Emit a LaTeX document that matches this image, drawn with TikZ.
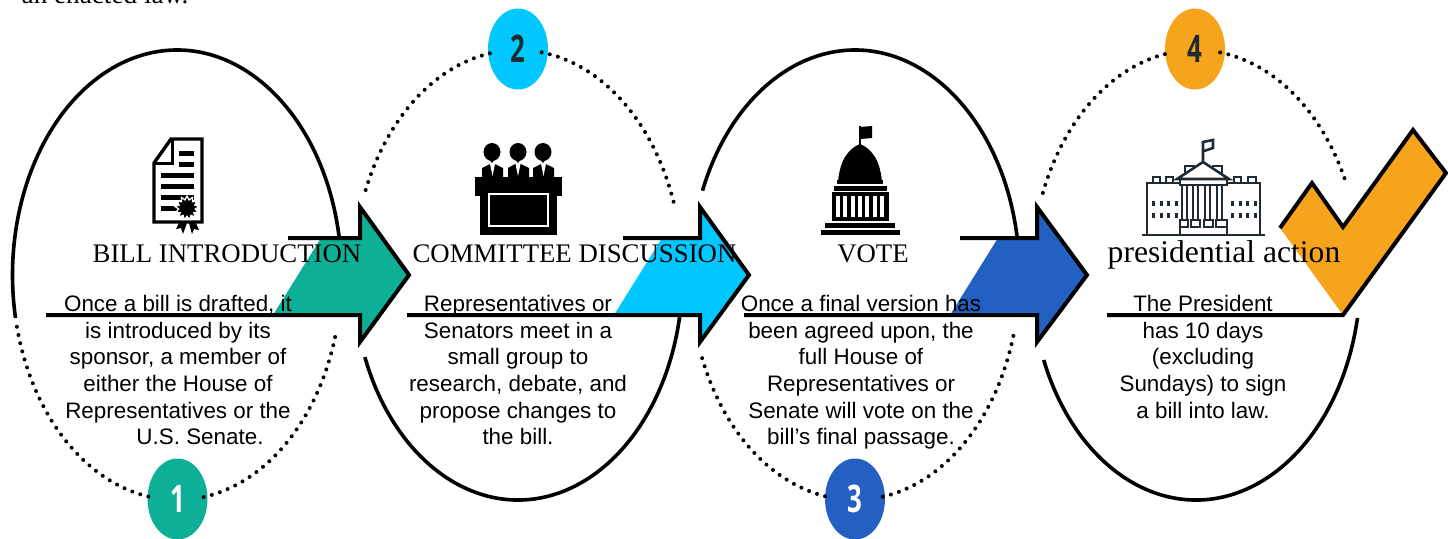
\documentclass[tikz,border=0pt]{standalone}
\usepackage{fontspec}
\setmainfont{Liberation Serif}
\setsansfont{Liberation Sans}
\newfontfamily\numfont[FakeStretch=0.68]{Open Sans}
\usetikzlibrary{shapes.geometric}
\definecolor{stepteal}{HTML}{0DB096}
\definecolor{stepcyan}{HTML}{00C8FF}
\definecolor{stepblue}{HTML}{2460C2}
\definecolor{steporange}{HTML}{F7A41D}
\definecolor{housedark}{HTML}{1F2A33}

\begin{document}
\begin{tikzpicture}[x=0.5pt,y=0.5pt,
	ring/.style={x radius=164.5,y radius=225},
	solidarc/.style={line width=1.8pt},
	dotarc/.style={line width=2pt,line cap=round,dash pattern=on 0pt off 4.2pt},
	arrowline/.style={line width=2pt},
	badge/.style={ellipse,inner sep=0pt,minimum width=30pt,minimum height=40.5pt,font=\numfont\bfseries\fontsize{19}{19}\selectfont},
	title/.style={anchor=base,inner sep=0pt,font=\fontsize{13.4}{16}\selectfont},
	body/.style={anchor=north,align=center,inner sep=0pt,font=\sffamily\fontsize{11.2}{13.3}\selectfont},
	bar/.style={line width=2.5pt},
	house/.style={draw=housedark,line width=1.3pt}]
	 \useasboundingbox (0,0) rectangle (1448,538);

	 \node at (105,535) [anchor=base,inner sep=0pt,font=\fontsize{13.6}{16}\selectfont] (lead) {an enacted law.};

	 % ring centres
	 \coordinate (ring1) at (177,263);
	 \coordinate (ring2) at (518,263);
	 \coordinate (ring3) at (855,263);
	 \coordinate (ring4) at (1196,263);

	 % arrow fills
	 \fill[stepteal] (321,300) -- (360,300) -- (360,331) -- (409,263) -- (360,196) -- (360,223) -- (273,223) -- cycle;
	 \fill[stepcyan] (662,300) -- (700,300) -- (700,331) -- (749,263) -- (700,196) -- (700,223) -- (614,223) -- cycle;
	 \fill[stepblue] (998,300) -- (1037,300) -- (1037,331) -- (1087,263) -- (1037,196) -- (1037,223) -- (950,223) -- cycle;
	 \fill[steporange] (1280,310) -- (1312,355) -- (1343,311) -- (1413,408) -- (1446,365) -- (1343,223) -- cycle;

	 % rings
	 \draw[solidarc] (ring1) ++(9.7:164.5 and 225) arc[ring,start angle=9.7,end angle=191];
	 \draw[solidarc] (ring2) ++(201.4:164.5 and 225) arc[ring,start angle=201.4,end angle=349.8];
	 \draw[solidarc] (ring3) ++(9.7:164.5 and 225) arc[ring,start angle=9.7,end angle=158];
	 \draw[solidarc] (ring4) ++(202.2:164.5 and 225) arc[ring,start angle=202.2,end angle=349];

	 % arrows
	 \draw[arrowline] (288,300) -- (360,300) -- (360,331) -- (409,263) -- (360,196) -- (360,223) -- (46,223);
	 \draw[arrowline] (623,300) -- (700,300) -- (700,331) -- (749,263) -- (700,196) -- (700,223) -- (407,223);
	 \draw[arrowline] (960,300) -- (1037,300) -- (1037,331) -- (1087,263) -- (1037,196) -- (1037,223) -- (744,223);
	 \draw[arrowline] (1280,310) -- (1312,355) -- (1343,311) -- (1413,408) -- (1446,365) -- (1343,223) -- (1107,223);

	 % badges
	 \node at (177.5,39) [badge,fill=stepteal,text=white] (badge1) {1};
	 \node at (518,489) [badge,fill=stepcyan,text=housedark] (badge2) {2};
	 \node at (855,39) [badge,fill=stepblue,text=white] (badge3) {3};
	 \node at (1195,489) [badge,fill=steporange,text=housedark] (badge4) {4};

	 % dotted parts
	 \draw[dotarc] (ring1) ++(193.3:164.5 and 225) arc[ring,start angle=193.3,end angle=262];
	 \draw[dotarc] (ring1) ++(344:164.5 and 225) arc[ring,start angle=344,end angle=278];
	 \draw[dotarc] (ring2) ++(157.8:164.5 and 225) arc[ring,start angle=157.8,end angle=98];
	 \draw[dotarc] (ring2) ++(19:164.5 and 225) arc[ring,start angle=19,end angle=82];
	 \draw[dotarc] (ring3) ++(201.7:164.5 and 225) arc[ring,start angle=201.7,end angle=262];
	 \draw[dotarc] (ring3) ++(344.3:164.5 and 225) arc[ring,start angle=344.3,end angle=278];
	 \draw[dotarc] (ring4) ++(158.6:164.5 and 225) arc[ring,start angle=158.6,end angle=98];
	 \draw[dotarc] (ring4) ++(25.5:164.5 and 225) arc[ring,start angle=25.5,end angle=82];

	 % document icon
	 \draw[line width=1.7pt,fill=white] (171,399) -- (202,399) -- (202,316) -- (154,316) -- (154,375) -- cycle;
	 \draw[line width=1.5pt] (172,399) -- (172,375) -- (154,375);
	 \draw[bar] (179,385) -- (194,385);
	 \draw[bar] (179,374) -- (194,374);
	 \draw[bar] (161,363) -- (194,363);
	 \draw[bar] (161,352) -- (194,352);
	 \draw[bar] (161,341) -- (194,341);
	 \draw[bar] (161,330) -- (180,330);
	 \fill (179,315) -- (176,309) -- (181,310) -- (183,304) -- (187,315) -- cycle;
	 \fill (189,315) -- (192,304) -- (194,309) -- (199,308) -- (196,315) -- cycle;
	 \node at (187,330) [star,star points=13,star point ratio=1.45,fill=black,draw=white,line width=0.6pt,inner sep=0pt,minimum size=12pt] (seal) {};

	 % bench icon
	 \fill (492,386) ellipse[x radius=8.5,y radius=9];
	 \fill (518,386) ellipse[x radius=8.5,y radius=9];
	 \fill (543,386) ellipse[x radius=8.5,y radius=9];
	 \fill (485,384) -- (492,375) -- (499,384) -- cycle;
	 \fill (511,384) -- (518,375) -- (525,384) -- cycle;
	 \fill (536,384) -- (543,375) -- (550,384) -- cycle;
	 \fill (482,358) -- (482,370) -- (490,374) -- (495,374) -- (503,370) -- (503,358) -- cycle;
	 \fill (508,358) -- (508,370) -- (515,374) -- (521,374) -- (529,370) -- (529,358) -- cycle;
	 \fill (533,358) -- (533,370) -- (541,374) -- (546,374) -- (554,370) -- (554,358) -- cycle;
	 \fill[white] (490,374) -- (495,374) -- (492.5,362) -- cycle;
	 \fill[white] (515.5,374) -- (520.5,374) -- (518,362) -- cycle;
	 \fill[white] (541,374) -- (546,374) -- (543.5,362) -- cycle;
	 \fill (475,361) rectangle (562,342);
	 \fill (480,342) rectangle (557,303);
	 \draw[white,line width=1pt] (488.5,344) rectangle (547.5,312);

	 % capitol icon
	 \draw[line width=0.6pt] (860,412) -- (860,392);
	 \fill (860,411) -- (872,412) -- (872,400) -- (860,399) -- cycle;
	 \fill (838,356) .. controls (840,380) and (850,390) .. (860,394) .. controls (870,390) and (880,380) .. (882,356) -- cycle;
	 \fill (837,358) rectangle (883,354);
	 \fill (834,352) rectangle (887,347);
	 \fill (832,346) rectangle (889,317);
	 \draw[white,line width=10.5pt,dash pattern=on 2pt off 1.65pt] (836,331.5) -- (886,331.5);
	 \fill (825,315) rectangle (895,310);
	 \fill (821,308) rectangle (900,303);

	 % white house icon
	 \draw[house] (1142,303) -- (1265,303);
	 \draw[house] (1147,303) -- (1147,355) -- (1181,355);
	 \draw[house] (1227,355) -- (1260,355) -- (1260,303);
	 \draw[house] (1153,355) rectangle (1160,361);
	 \draw[house] (1166,355) rectangle (1173,361);
	 \draw[house] (1234,355) rectangle (1241,361);
	 \draw[house] (1248,355) rectangle (1256,361);
	 \draw[house] (1185,365) -- (1185,372) -- (1195,372);
	 \draw[house] (1212,372) -- (1222,372) -- (1222,365);
	 \draw[house] (1177,359) -- (1203,376) -- (1229,359) -- cycle;
	 \draw[house] (1180,359) rectangle (1227,353);
	 \draw[house] (1182,353) -- (1182,318) (1187,353) -- (1187,318) (1193,353) -- (1193,318) (1198,353) -- (1198,318) (1205,353) -- (1205,318) (1210,353) -- (1210,318) (1217,353) -- (1217,318) (1222,353) -- (1222,318);
	 \draw[house] (1180,318) rectangle (1188,311);
	 \draw[house] (1191,318) rectangle (1200,311);
	 \draw[house] (1204,318) rectangle (1213,311);
	 \draw[house] (1216,318) rectangle (1227,311);
	 \draw[house] (1180,311) -- (1180,303) (1227,311) -- (1227,303);
	 \draw[housedark,line width=2.5pt,dash pattern=on 1.5pt off 2.25pt] (1152,335) -- (1178,335);
	 \draw[housedark,line width=2.5pt,dash pattern=on 1.5pt off 2.25pt] (1152,323) -- (1178,323);
	 \draw[housedark,line width=2.5pt,dash pattern=on 1.5pt off 2.25pt] (1231,335) -- (1257,335);
	 \draw[housedark,line width=2.5pt,dash pattern=on 1.5pt off 2.25pt] (1231,323) -- (1257,323);
	 \draw[house] (1203,376) -- (1203,396) -- (1213,398) -- (1213,390) -- (1204,387);

	 % titles
	 \node at (227,276) [title] (title1) {BILL INTRODUCTION};
	 \node at (574.5,276) [title] (title2) {COMMITTEE DISCUSSION};
	 \node at (873,276) [title] (title3) {VOTE};
	 \node at (1224,276) [title,font=\fontsize{15.8}{18}\selectfont] (title4) {presidential action};

	 % texts
	 \node at (178,243) [body] (text1) {Once a bill is drafted, it\\is introduced by its\\sponsor, a member of\\either the House of\\Representatives or the\\\hspace*{22pt}U.S. Senate.};
	 \node at (518,243) [body] (text2) {Representatives or\\Senators meet in a\\small group to\\research, debate, and\\propose changes to\\the bill.};
	 \node at (861,243) [body] (text3) {Once a final version has\\been agreed upon, the\\full House of\\Representatives or\\Senate will vote on the\\bill’s final passage.};
	 \node at (1203,243) [body] (text4) {The President\\has 10 days\\(excluding\\Sundays) to sign\\a bill into law.};

\end{tikzpicture}
\end{document}
